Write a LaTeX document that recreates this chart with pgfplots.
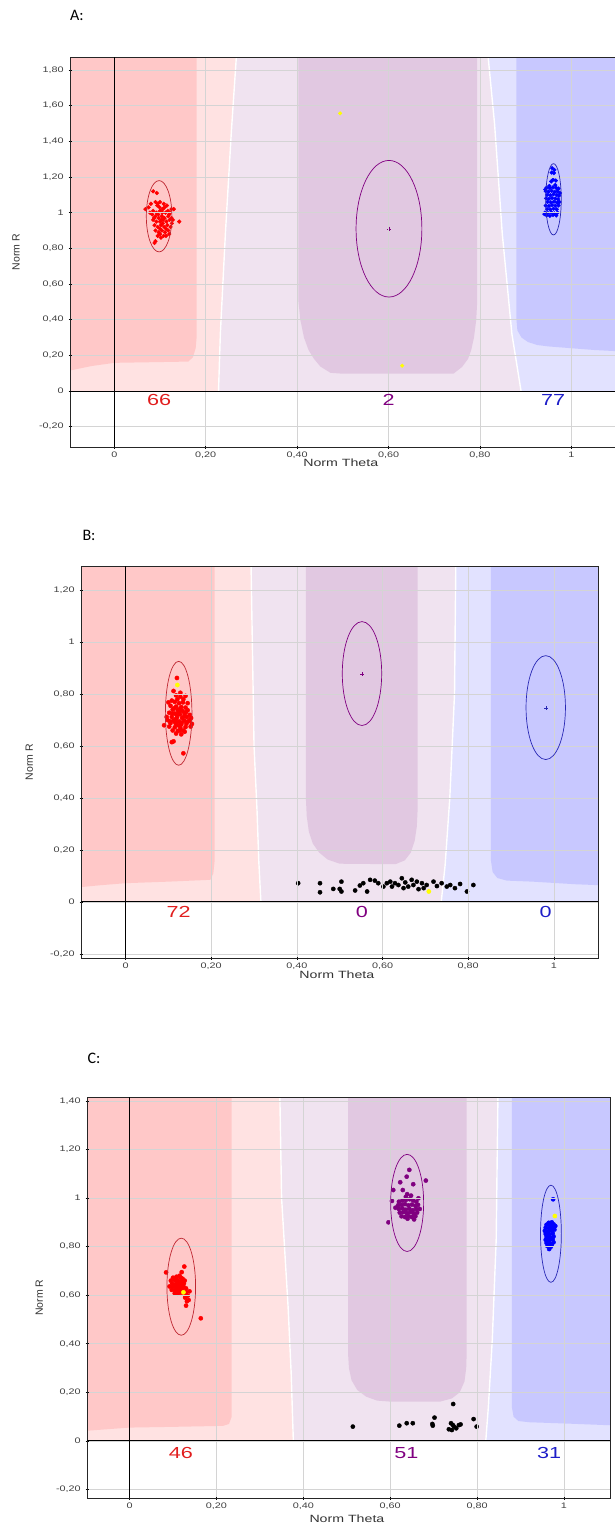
\documentclass[border=0pt]{standalone}
\usepackage{pgfplots}
\pgfplotsset{compat=1.18}
\usepackage{fontspec}
\setmainfont{Liberation Sans}
\newfontfamily\carl{Carlito}
\definecolor{dred}{RGB}{255,200,200}
\definecolor{lred}{RGB}{255,226,226}
\definecolor{lpur}{RGB}{240,227,240}
\definecolor{dpur}{RGB}{225,200,225}
\definecolor{lblu}{RGB}{226,226,255}
\definecolor{dblu}{RGB}{200,200,255}
\definecolor{ptred}{RGB}{255,0,0}
\definecolor{ptpur}{RGB}{128,0,128}
\definecolor{ptblu}{RGB}{0,0,255}
\definecolor{elred}{RGB}{190,40,50}
\definecolor{elpur}{RGB}{128,0,128}
\definecolor{elblu}{RGB}{40,40,180}
\definecolor{cred}{RGB}{225,30,30}
\definecolor{cpur}{RGB}{128,0,128}
\definecolor{cblu}{RGB}{30,30,200}
\definecolor{gridc}{RGB}{212,212,212}
\definecolor{yel}{RGB}{255,255,0}
\pgfplotsset{
  layers/gsl/.define layer set={axis background,main,axis grid,axis ticks,axis lines,axis tick labels,axis descriptions,axis foreground}{
    grid style={/pgfplots/on layer=axis grid},
    tick style={/pgfplots/on layer=axis ticks},
    axis line style={/pgfplots/on layer=axis lines},
    label style={/pgfplots/on layer=axis descriptions},
    legend style={/pgfplots/on layer=axis descriptions},
    title style={/pgfplots/on layer=axis descriptions},
    colorbar style={/pgfplots/on layer=axis descriptions},
    ticklabel style={/pgfplots/on layer=axis tick labels},
    axis background@ style={/pgfplots/on layer=axis background},
    3d box foreground style={/pgfplots/on layer=axis foreground},
  },
  gs/.style={
    scale only axis, set layers=gsl, anchor=south west,
    axis line style={draw=black!85, line width=0.8pt},
    grid=major, major grid style={draw=gridc, line width=0.7pt},
    tick style={draw=black, line width=0.6pt},
    major tick length=3pt, tick align=center,
    xtick pos=bottom, ytick pos=left,
    tick label style={font=\fontsize{8}{9}\selectfont, xscale=1.35, text=black!75},
    xtick={0,0.2,0.4,0.6,0.8,1},
    xticklabels={0,{0,20},{0,40},{0,60},{0,80},1},
    label style={font=\fontsize{10.5}{12}\selectfont, text=black!80},
    xlabel={Norm Theta}, ylabel={Norm R},
  },
  bg/.style={draw=none},
  wl/.style={draw=white, line width=1.4pt},
  fg/.style={on layer=axis foreground},
  pt/.style={fg, only marks, mark=*, mark size=2.1pt, mark options={draw=none}},
  zl/.style={fg, black, line width=0.9pt},
  pl/.style={fg, only marks, mark=+, mark size=2pt},
}
\newcommand\cnt{\fontsize{16}{18}\selectfont}
\begin{document}
\begin{tikzpicture}[x=1pt,y=1pt]
\node[font=\carl\fontsize{16}{18}\selectfont] at (77,-15) {A:};
\node[font=\carl\fontsize{16}{18}\selectfont] at (89,-535) {B:};
\node[font=\carl\fontsize{16}{18}\selectfont] at (94,-1058) {C:};

% ---------------- Panel A ----------------
\begin{axis}[gs, at={(70pt,-447pt)}, width=547pt, height=390pt,
  xmin=-0.097, xmax=1.1, ymin=-0.314, ymax=1.873,
  ytick={-0.2,0,0.2,0.4,0.6,0.8,1,1.2,1.4,1.6,1.8},
  yticklabels={{-0,20},0,{0,20},{0,40},{0,60},{0,80},1,{1,20},{1,40},{1,60},{1,80}},
  xlabel style={at={(axis description cs:0.495,-0.041)}, anchor=center, xscale=1.35},
  ylabel style={at={(axis description cs:-0.0987,0.5)}, anchor=center}]
\addplot[bg, fill=lpur] coordinates {(-0.2,0)(-0.2,2.2)(1.2,2.2)(1.2,0)} -- cycle;
\addplot[bg, fill=lred] coordinates {(-0.2,0)(-0.2,2.2)(0.268,2.2)(0.267,1.873)(0.256,1.45)(0.243,0.88)(0.232,0.32)(0.228,0)} -- cycle;
\addplot[bg, fill=lblu] coordinates {(1.2,0)(1.2,2.2)(0.818,2.2)(0.818,1.873)(0.832,1.5)(0.849,0.88)(0.87,0.32)(0.89,0)} -- cycle;
\addplot[wl] coordinates {(0.268,2.2)(0.267,1.873)(0.256,1.45)(0.243,0.88)(0.232,0.32)(0.228,0)};
\addplot[wl] coordinates {(0.818,2.2)(0.818,1.873)(0.832,1.5)(0.849,0.88)(0.87,0.32)(0.89,0)};
\addplot[bg, fill=dred] coordinates {(-0.2,2.2)(0.18,2.2)(0.18,0.30)(0.178,0.24)(0.172,0.19)(0.162,0.165)(0.0,0.158)(-0.05,0.14)(-0.097,0.115)(-0.2,0.115)} -- cycle;
\addplot[bg, fill=dpur] coordinates {(0.403,2.2)(0.403,0.5)(0.407,0.40)(0.415,0.30)(0.425,0.23)(0.437,0.18)(0.451,0.137)(0.473,0.102)(0.50,0.097)(0.742,0.097)(0.761,0.135)(0.774,0.18)(0.781,0.23)(0.787,0.30)(0.792,0.40)(0.794,0.5)(0.794,2.2)} -- cycle;
\addplot[bg, fill=dblu] coordinates {(0.88,2.2)(0.88,0.40)(0.882,0.34)(0.891,0.30)(0.905,0.275)(0.925,0.258)(0.95,0.25)(1.0,0.24)(1.05,0.23)(1.2,0.21)(1.2,2.2)} -- cycle;
\addplot[zl] coordinates {(0,-0.314)(0,1.873)};
\addplot[zl] coordinates {(-0.097,0)(1.1,0)};
\begin{pgfonlayer}{axis foreground}
\draw[elred, line width=0.7pt] (axis cs:0.098,0.98) ellipse [x radius=0.028, y radius=0.2];
\draw[elpur, line width=0.7pt] (axis cs:0.601,0.91) ellipse [x radius=0.072, y radius=0.383];
\draw[elblu, line width=0.7pt] (axis cs:0.961,1.075) ellipse [x radius=0.017, y radius=0.2];
\node[text=cred, font=\cnt, xscale=1.35] at (axis cs:0.098,-0.05) {66};
\node[text=cpur, font=\cnt, xscale=1.35] at (axis cs:0.6,-0.05) {2};
\node[text=cblu, font=\cnt, xscale=1.35] at (axis cs:0.96,-0.05) {77};
\end{pgfonlayer}
\addplot[pl, elpur] coordinates {(0.601,0.91)};
\addplot[pt, ptred, mark size=1.9pt] coordinates {(0.085,1.12)(0.093,1.11)(0.075,1.03)(0.068,1.02)(0.08,1.05)(0.09,1.06)(0.095,1.05)(0.1,1.06)(0.108,1.05)(0.115,1.04)(0.125,1.02)(0.13,1.02)(0.078,1.0)(0.085,1.01)(0.092,1.0)(0.1,1.01)(0.105,1.0)(0.112,1.0)(0.12,0.99)(0.09,0.98)(0.097,0.97)(0.104,0.98)(0.11,0.97)(0.118,0.98)(0.125,0.97)(0.085,0.96)(0.092,0.95)(0.1,0.95)(0.107,0.96)(0.114,0.95)(0.121,0.96)(0.128,0.96)(0.142,0.95)(0.088,0.93)(0.095,0.92)(0.102,0.93)(0.109,0.92)(0.116,0.93)(0.123,0.92)(0.09,0.9)(0.097,0.89)(0.104,0.9)(0.111,0.89)(0.12,0.88)(0.095,0.87)(0.102,0.86)(0.108,0.87)(0.09,0.84)(0.088,0.83)(0.1,0.91)(0.106,0.94)(0.113,0.91)(0.099,1.03)(0.106,1.02)(0.117,1.01)(0.083,0.99)(0.126,0.94)(0.094,1.04)(0.11,1.03)(0.1,0.88)(0.118,0.9)(0.113,0.87)(0.096,0.99)(0.103,0.96)(0.122,1.0)(0.087,0.97)};
\addplot[pt, ptblu, mark size=1.9pt] coordinates {(0.958,1.250)(0.963,1.240)(0.957,1.225)(0.962,1.222)(0.960,1.185)(0.966,1.180)(0.956,1.175)(0.946,1.140)(0.953,1.138)(0.960,1.142)(0.967,1.139)(0.972,1.135)(0.944,1.120)(0.950,1.118)(0.957,1.122)(0.964,1.117)(0.970,1.120)(0.947,1.100)(0.954,1.098)(0.961,1.103)(0.968,1.099)(0.973,1.095)(0.945,1.080)(0.951,1.078)(0.958,1.082)(0.965,1.079)(0.971,1.076)(0.948,1.060)(0.955,1.058)(0.962,1.062)(0.969,1.057)(0.944,1.040)(0.951,1.038)(0.958,1.042)(0.965,1.039)(0.972,1.041)(0.947,1.020)(0.954,1.018)(0.961,1.022)(0.968,1.019)(0.942,1.000)(0.949,0.998)(0.956,1.002)(0.963,0.996)(0.970,1.000)(0.946,0.985)(0.953,0.982)(0.960,0.987)(0.967,0.984)(0.941,0.992)(0.974,1.060)(0.943,1.130)(0.975,1.110)(0.952,1.150)(0.965,1.155)};
\addplot[pt, yel, mark size=1.8pt] coordinates {(0.494,1.557)(0.63,0.142)};
\end{axis}

% ---------------- Panel B ----------------
\begin{axis}[gs, at={(81pt,-958pt)}, width=517pt, height=392pt,
  xmin=-0.104, xmax=1.103, ymin=-0.216, ymax=1.293,
  ytick={-0.2,0,0.2,0.4,0.6,0.8,1,1.2},
  yticklabels={{-0,20},0,{0,20},{0,40},{0,60},{0,80},1,{1,20}},
  xlabel style={at={(axis description cs:0.495,-0.043)}, anchor=center, xscale=1.35},
  ylabel style={at={(axis description cs:-0.0998,0.5)}, anchor=center}]
\addplot[bg, fill=lpur] coordinates {(-0.2,0)(-0.2,1.5)(1.2,1.5)(1.2,0)} -- cycle;
\addplot[bg, fill=lred] coordinates {(-0.2,0)(-0.2,1.5)(0.293,1.5)(0.293,1.293)(0.30,0.6)(0.307,0.35)(0.311,0.16)(0.316,0)} -- cycle;
\addplot[bg, fill=lblu] coordinates {(1.2,0)(1.2,1.5)(0.771,1.5)(0.771,1.293)(0.768,0.8)(0.757,0.40)(0.746,0.14)(0.737,0)} -- cycle;
\addplot[wl] coordinates {(0.293,1.5)(0.293,1.293)(0.30,0.6)(0.307,0.35)(0.311,0.16)(0.316,0)};
\addplot[wl] coordinates {(0.771,1.5)(0.771,1.293)(0.768,0.8)(0.757,0.40)(0.746,0.14)(0.737,0)};
\addplot[bg, fill=dred] coordinates {(-0.2,1.5)(0.208,1.5)(0.208,0.16)(0.205,0.11)(0.198,0.085)(0.1,0.078)(0,0.072)(-0.06,0.064)(-0.104,0.057)(-0.2,0.057)} -- cycle;
\addplot[bg, fill=dpur] coordinates {(0.421,1.5)(0.421,0.40)(0.423,0.33)(0.428,0.27)(0.437,0.225)(0.452,0.19)(0.472,0.163)(0.50,0.147)(0.63,0.145)(0.652,0.16)(0.666,0.19)(0.675,0.235)(0.68,0.29)(0.682,0.36)(0.682,1.5)} -- cycle;
\addplot[bg, fill=dblu] coordinates {(0.853,1.5)(0.853,0.16)(0.857,0.115)(0.868,0.092)(0.89,0.082)(0.95,0.078)(1.05,0.068)(1.2,0.058)(1.2,1.5)} -- cycle;
\addplot[zl] coordinates {(0,-0.216)(0,1.293)};
\addplot[zl] coordinates {(-0.104,0)(1.103,0)};
\begin{pgfonlayer}{axis foreground}
\draw[elred, line width=0.7pt] (axis cs:0.124,0.726) ellipse [x radius=0.031, y radius=0.2];
\draw[elpur, line width=0.7pt] (axis cs:0.552,0.879) ellipse [x radius=0.046, y radius=0.2];
\draw[elblu, line width=0.7pt] (axis cs:0.981,0.748) ellipse [x radius=0.046, y radius=0.2];
\node[text=cred, font=\cnt, xscale=1.35] at (axis cs:0.124,-0.04) {72};
\node[text=cpur, font=\cnt, xscale=1.35] at (axis cs:0.552,-0.04) {0};
\node[text=cblu, font=\cnt, xscale=1.35] at (axis cs:0.981,-0.04) {0};
\end{pgfonlayer}
\addplot[pl, elpur] coordinates {(0.553,0.877)};
\addplot[pl, elblu] coordinates {(0.982,0.745)};
\addplot[pt, ptred] coordinates {(0.120,0.862)(0.112,0.812)(0.118,0.795)(0.128,0.790)(0.140,0.793)(0.135,0.780)(0.108,0.775)(0.100,0.768)(0.115,0.770)(0.125,0.765)(0.145,0.765)(0.105,0.755)(0.118,0.752)(0.130,0.750)(0.140,0.748)(0.110,0.740)(0.122,0.738)(0.133,0.735)(0.145,0.738)(0.102,0.728)(0.115,0.725)(0.127,0.722)(0.138,0.725)(0.150,0.720)(0.108,0.712)(0.120,0.710)(0.132,0.708)(0.143,0.712)(0.098,0.700)(0.112,0.698)(0.125,0.695)(0.137,0.698)(0.150,0.700)(0.105,0.688)(0.118,0.685)(0.130,0.683)(0.142,0.686)(0.155,0.685)(0.090,0.680)(0.102,0.675)(0.115,0.672)(0.128,0.670)(0.140,0.673)(0.152,0.675)(0.110,0.660)(0.122,0.658)(0.135,0.660)(0.118,0.648)(0.130,0.645)(0.112,0.618)(0.108,0.615)(0.135,0.572)(0.125,0.730)(0.113,0.745)(0.137,0.715)(0.120,0.722)(0.146,0.695)(0.104,0.695)(0.126,0.742)(0.131,0.690)(0.117,0.703)(0.141,0.730)(0.123,0.680)(0.096,0.712)(0.153,0.708)(0.109,0.725)(0.134,0.768)(0.121,0.780)(0.128,0.805)(0.116,0.690)(0.138,0.655)(0.127,0.660)};
\addplot[pt, black] coordinates {(0.403,0.072)(0.454,0.072)(0.454,0.037)(0.485,0.050)(0.504,0.078)(0.500,0.050)(0.504,0.040)(0.536,0.044)(0.547,0.063)(0.555,0.072)(0.564,0.040)(0.571,0.085)(0.582,0.082)(0.590,0.072)(0.602,0.059)(0.610,0.072)(0.618,0.078)(0.622,0.059)(0.629,0.072)(0.637,0.065)(0.645,0.091)(0.649,0.053)(0.653,0.075)(0.660,0.059)(0.668,0.085)(0.672,0.065)(0.680,0.078)(0.684,0.049)(0.692,0.072)(0.696,0.053)(0.703,0.065)(0.719,0.078)(0.727,0.061)(0.738,0.072)(0.750,0.059)(0.758,0.065)(0.769,0.053)(0.781,0.069)(0.797,0.040)(0.812,0.065)};
\addplot[pt, yel] coordinates {(0.121,0.835)(0.708,0.040)};
\end{axis}

% ---------------- Panel C ----------------
\begin{axis}[gs, at={(87pt,-1498pt)}, width=523pt, height=401pt,
  xmin=-0.098, xmax=1.106, ymin=-0.235, ymax=1.416,
  ytick={-0.2,0,0.2,0.4,0.6,0.8,1,1.2,1.4},
  yticklabels={{-0,20},0,{0,20},{0,40},{0,60},{0,80},1,{1,20},{1,40}},
  xlabel style={at={(axis description cs:0.497,-0.052)}, anchor=center, xscale=1.35},
  ylabel style={at={(axis description cs:-0.0914,0.5)}, anchor=center}]
\addplot[bg, fill=lpur] coordinates {(-0.2,0)(-0.2,1.6)(1.2,1.6)(1.2,0)} -- cycle;
\addplot[bg, fill=lred] coordinates {(-0.2,0)(-0.2,1.6)(0.346,1.6)(0.346,1.416)(0.35,1.0)(0.365,0.55)(0.372,0.28)(0.377,0)} -- cycle;
\addplot[bg, fill=lblu] coordinates {(1.2,0)(1.2,1.6)(0.848,1.6)(0.848,1.416)(0.844,0.83)(0.835,0.416)(0.826,0.141)(0.82,0)} -- cycle;
\addplot[wl] coordinates {(0.346,1.6)(0.346,1.416)(0.35,1.0)(0.365,0.55)(0.372,0.28)(0.377,0)};
\addplot[wl] coordinates {(0.848,1.6)(0.848,1.416)(0.844,0.83)(0.835,0.416)(0.826,0.141)(0.82,0)};
\addplot[bg, fill=dred] coordinates {(-0.2,1.6)(0.235,1.6)(0.235,0.10)(0.229,0.07)(0.215,0.062)(0.1,0.058)(0,0.055)(-0.098,0.042)(-0.2,0.042)} -- cycle;
\addplot[bg, fill=dpur] coordinates {(0.503,1.6)(0.503,0.36)(0.505,0.30)(0.511,0.25)(0.524,0.21)(0.545,0.182)(0.57,0.166)(0.60,0.162)(0.715,0.162)(0.742,0.175)(0.76,0.20)(0.771,0.245)(0.775,0.30)(0.776,0.36)(0.776,1.6)} -- cycle;
\addplot[bg, fill=dblu] coordinates {(0.88,1.6)(0.88,0.14)(0.884,0.10)(0.895,0.082)(0.92,0.077)(1.0,0.072)(1.2,0.058)(1.2,1.6)} -- cycle;
\addplot[zl] coordinates {(0,-0.235)(0,1.416)};
\addplot[zl] coordinates {(-0.098,0)(1.106,0)};
\begin{pgfonlayer}{axis foreground}
\draw[elred, line width=0.7pt] (axis cs:0.119,0.635) ellipse [x radius=0.033, y radius=0.2];
\draw[elpur, line width=0.7pt] (axis cs:0.639,0.98) ellipse [x radius=0.038, y radius=0.2];
\draw[elblu, line width=0.7pt] (axis cs:0.970,0.853) ellipse [x radius=0.024, y radius=0.2];
\node[text=cred, font=\cnt, xscale=1.35] at (axis cs:0.118,-0.051) {46};
\node[text=cpur, font=\cnt, xscale=1.35] at (axis cs:0.637,-0.051) {51};
\node[text=cblu, font=\cnt, xscale=1.35] at (axis cs:0.966,-0.051) {31};
\end{pgfonlayer}
\addplot[pt, ptred] coordinates {(0.084,0.694)(0.126,0.718)(0.120,0.695)(0.100,0.672)(0.108,0.676)(0.115,0.680)(0.122,0.668)(0.095,0.660)(0.104,0.662)(0.112,0.658)(0.119,0.655)(0.127,0.660)(0.098,0.648)(0.106,0.645)(0.113,0.642)(0.121,0.646)(0.092,0.636)(0.100,0.634)(0.108,0.630)(0.116,0.633)(0.124,0.636)(0.097,0.622)(0.105,0.620)(0.112,0.618)(0.120,0.624)(0.130,0.628)(0.104,0.608)(0.111,0.606)(0.118,0.610)(0.131,0.612)(0.138,0.616)(0.134,0.598)(0.128,0.590)(0.136,0.580)(0.132,0.575)(0.130,0.557)(0.164,0.505)(0.110,0.648)(0.117,0.640)(0.102,0.640)(0.125,0.648)(0.109,0.665)(0.118,0.672)(0.113,0.628)(0.123,0.615)(0.127,0.602)};
\addplot[pt, ptpur] coordinates {(0.644,1.116)(0.638,1.088)(0.682,1.072)(0.623,1.065)(0.653,1.057)(0.607,1.033)(0.629,1.033)(0.639,1.016)(0.665,0.999)(0.604,0.988)(0.596,0.900)(0.620,0.985)(0.628,0.990)(0.636,0.992)(0.645,0.995)(0.653,0.990)(0.660,0.985)(0.618,0.970)(0.626,0.972)(0.634,0.975)(0.642,0.970)(0.650,0.973)(0.658,0.968)(0.664,0.972)(0.620,0.955)(0.628,0.958)(0.636,0.952)(0.644,0.956)(0.652,0.950)(0.660,0.955)(0.622,0.940)(0.630,0.942)(0.638,0.938)(0.646,0.942)(0.654,0.936)(0.662,0.940)(0.626,0.925)(0.634,0.922)(0.642,0.926)(0.650,0.922)(0.658,0.925)(0.636,1.005)(0.648,1.010)(0.612,0.960)(0.668,0.955)(0.640,0.915)(0.655,0.912)};
\addplot[pt, ptblu] coordinates {(0.975,0.995)(0.965,0.898)(0.972,0.900)(0.960,0.890)(0.968,0.888)(0.976,0.892)(0.958,0.878)(0.966,0.875)(0.974,0.880)(0.980,0.885)(0.956,0.865)(0.964,0.862)(0.972,0.866)(0.958,0.852)(0.966,0.850)(0.974,0.855)(0.960,0.840)(0.968,0.838)(0.976,0.842)(0.958,0.828)(0.966,0.826)(0.974,0.830)(0.960,0.815)(0.968,0.812)(0.976,0.818)(0.962,0.802)(0.970,0.800)(0.966,0.790)(0.972,0.808)(0.978,0.870)(0.962,0.832)};
\addplot[pt, black] coordinates {(0.514,0.059)(0.621,0.063)(0.638,0.073)(0.652,0.073)(0.697,0.070)(0.702,0.096)(0.698,0.063)(0.745,0.152)(0.735,0.048)(0.740,0.073)(0.747,0.059)(0.758,0.065)(0.752,0.052)(0.744,0.066)(0.762,0.068)(0.792,0.090)(0.799,0.059)(0.742,0.045)};
\addplot[pt, yel] coordinates {(0.124,0.612)(0.979,0.926)};
\end{axis}
\pgfresetboundingbox
\useasboundingbox (0,0) rectangle (615,-1526);
\end{tikzpicture}
\end{document}
